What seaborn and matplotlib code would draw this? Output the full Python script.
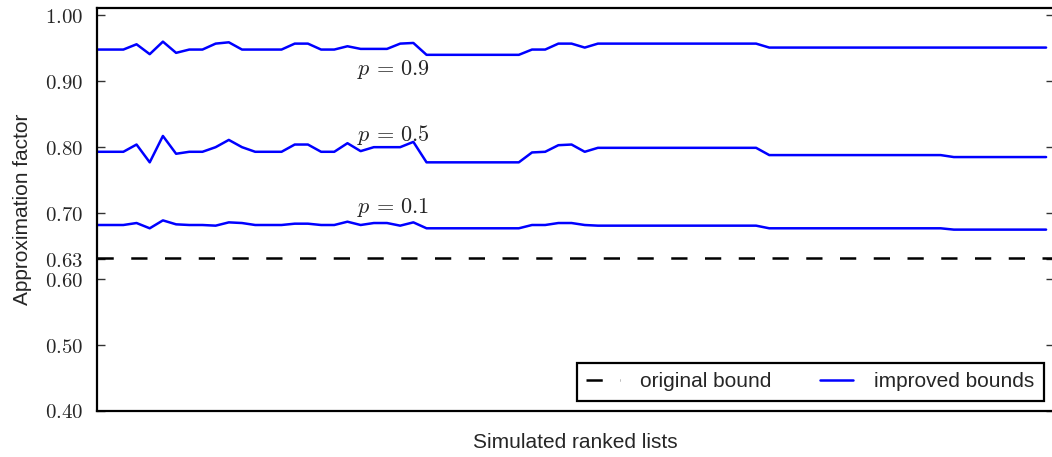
import numpy as np
import pandas as pd
import matplotlib
matplotlib.use("Agg")
import matplotlib.pyplot as plt
import seaborn as sns

# ---------------- data ----------------
ranked_list_index = list(range(73))
p_values = ["0.9", "0.5", "0.1"]
bound_p09 = [0.948, 0.948, 0.948, 0.956, 0.941, 0.960, 0.943, 0.948, 0.948, 0.957,
             0.959, 0.948, 0.948, 0.948, 0.948, 0.957, 0.957, 0.948, 0.948, 0.953,
             0.949, 0.949, 0.949, 0.957, 0.958, 0.940, 0.940, 0.940, 0.940, 0.940,
             0.940, 0.940, 0.940, 0.948, 0.948, 0.957, 0.957, 0.951, 0.957, 0.957,
             0.957, 0.957, 0.957, 0.957, 0.957, 0.957, 0.957, 0.957, 0.957, 0.957,
             0.957, 0.951, 0.951, 0.951, 0.951, 0.951, 0.951, 0.951, 0.951, 0.951,
             0.951, 0.951, 0.951, 0.951, 0.951, 0.951, 0.951, 0.951, 0.951, 0.951,
             0.951, 0.951, 0.951]
bound_p05 = [0.793, 0.793, 0.793, 0.804, 0.777, 0.817, 0.790, 0.793, 0.793, 0.800,
             0.811, 0.800, 0.793, 0.793, 0.793, 0.804, 0.804, 0.793, 0.793, 0.806,
             0.794, 0.800, 0.800, 0.800, 0.808, 0.777, 0.777, 0.777, 0.777, 0.777,
             0.777, 0.777, 0.777, 0.792, 0.793, 0.803, 0.804, 0.793, 0.799, 0.799,
             0.799, 0.799, 0.799, 0.799, 0.799, 0.799, 0.799, 0.799, 0.799, 0.799,
             0.799, 0.788, 0.788, 0.788, 0.788, 0.788, 0.788, 0.788, 0.788, 0.788,
             0.788, 0.788, 0.788, 0.788, 0.788, 0.785, 0.785, 0.785, 0.785, 0.785,
             0.785, 0.785, 0.785]
bound_p01 = [0.682, 0.682, 0.682, 0.685, 0.677, 0.689, 0.683, 0.682, 0.682, 0.681,
             0.686, 0.685, 0.682, 0.682, 0.682, 0.684, 0.684, 0.682, 0.682, 0.687,
             0.682, 0.685, 0.685, 0.681, 0.686, 0.677, 0.677, 0.677, 0.677, 0.677,
             0.677, 0.677, 0.677, 0.682, 0.682, 0.685, 0.685, 0.682, 0.681, 0.681,
             0.681, 0.681, 0.681, 0.681, 0.681, 0.681, 0.681, 0.681, 0.681, 0.681,
             0.681, 0.677, 0.677, 0.677, 0.677, 0.677, 0.677, 0.677, 0.677, 0.677,
             0.677, 0.677, 0.677, 0.677, 0.677, 0.675, 0.675, 0.675, 0.675, 0.675,
             0.675, 0.675, 0.675]
original_bound = 0.632
p_label_x = [19.7, 19.7, 19.7]
p_label_y = [0.91, 0.81, 0.70]
ytick_values = [0.40, 0.50, 0.60, 0.63, 0.70, 0.80, 0.90, 1.00]
ytick_labels = ["0.40", "0.50", "0.60", "0.63", "0.70", "0.80", "0.90", "1.00"]

# ---------------- style ----------------
sns.set_style("white")
plt.rcParams["font.family"] = ["Liberation Sans", "DejaVu Sans"]
plt.rcParams["mathtext.fontset"] = "cm"

W, H = 1052, 457
fig = plt.figure(figsize=(W / 100, H / 100), dpi=100)
left, right, top, bottom = 97, 1054, 8, 411
ax = fig.add_axes([left / W, (H - bottom) / H, (right - left) / W, (bottom - top) / H])

ax.axhline(original_bound, color="black", lw=1.8, dashes=(6.5, 7),
           label="original bound")

series = {"0.9": bound_p09, "0.5": bound_p05, "0.1": bound_p01}
rows = []
for p in p_values:
    for x, v in zip(ranked_list_index, series[p]):
        rows.append({"x": x, "value": v, "p": p})
df = pd.DataFrame(rows)

for k, p in enumerate(p_values):
    sns.lineplot(data=df[df["p"] == p], x="x", y="value", ax=ax, color="blue",
                 lw=1.8, label="improved bounds" if k == 0 else "_nolegend_",
                 legend=False)

for p, tx, ty in zip(p_values, p_label_x, p_label_y):
    ax.text(tx, ty, rf"$p\,=\,{p}$", fontsize=16, ha="left", va="baseline")

ax.set_xlim(0, 72.6)
ax.set_ylim(0.40, 1.011)
ax.set_xticks([])
ax.set_yticks(ytick_values)
ax.set_yticklabels([rf"${t}$" for t in ytick_labels])
ax.tick_params(axis="y", which="both", direction="in", length=6, width=1,
               color="#333333", left=True, right=True, labelsize=15, pad=10)
for s in ax.spines.values():
    s.set_linewidth(1.6)
    s.set_color("black")

ax.set_xlabel("Simulated ranked lists", fontsize=15, labelpad=16)
ax.set_ylabel("Approximation factor", fontsize=15, labelpad=9)

handles, labels = ax.get_legend_handles_labels()
leg = ax.legend(handles, labels, loc="lower right", ncol=2, frameon=True,
                fancybox=False, edgecolor="black", fontsize=15,
                handlelength=1.6, handletextpad=1.0, columnspacing=2.3,
                borderaxespad=0.5, borderpad=0.45)
leg.get_frame().set_linewidth(1.6)
leg.get_frame().set_alpha(1)

fig.savefig("out.png", dpi=100)
